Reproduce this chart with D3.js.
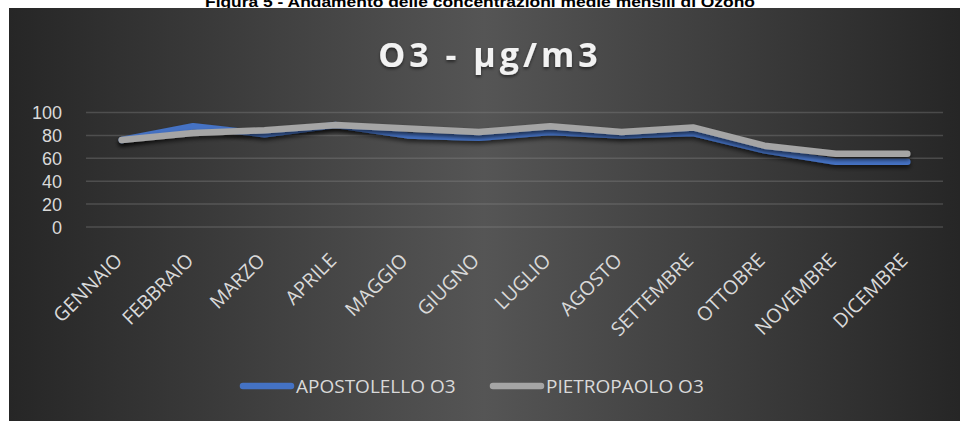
<!DOCTYPE html>
<html>
<head>
<meta charset="utf-8">
<script src="https://cdn.jsdelivr.net/npm/d3@7"></script>
<style>
  html, body { margin: 0; padding: 0; background: #fff; }
  svg { display: block; }
</style>
</head>
<body>
<svg id="chart" width="960" height="421"></svg>
<script>
// Monthly mean ozone concentrations at two stations
const months = ["GENNAIO", "FEBBRAIO", "MARZO", "APRILE", "MAGGIO", "GIUGNO",
                "LUGLIO", "AGOSTO", "SETTEMBRE", "OTTOBRE", "NOVEMBRE", "DICEMBRE"];
const apostolello = [76, 88, 81, 89, 80, 78, 83, 80, 82, 67, 57, 57];
const pietropaolo = [76, 82, 84.5, 89, 86, 83, 88, 83, 87, 71, 64, 64];
const yTicks = [0, 20, 40, 60, 80, 100];
const seriesNames = ["APOSTOLELLO O3", "PIETROPAOLO O3"];
const seriesColors = ["#4472C4", "#A5A5A5"];

const svg = d3.select("#chart");
const W = 960, H = 421;

const defs = svg.append("defs");
const grad = defs.append("linearGradient")
  .attr("id", "bg").attr("x1", 0).attr("x2", 1).attr("y1", 0).attr("y2", 0);
grad.append("stop").attr("offset", "0%").attr("stop-color", "#262626");
grad.append("stop").attr("offset", "50%").attr("stop-color", "#555555");
grad.append("stop").attr("offset", "100%").attr("stop-color", "#262626");

const shadow = defs.append("filter").attr("id", "shadow")
  .attr("x", "-5%").attr("y", "-20%").attr("width", "110%").attr("height", "160%");
shadow.append("feDropShadow").attr("dx", 0).attr("dy", 3).attr("stdDeviation", 2)
  .attr("flood-color", "#000").attr("flood-opacity", 0.6);

const tshadow = defs.append("filter").attr("id", "tshadow")
  .attr("x", "-10%").attr("y", "-30%").attr("width", "120%").attr("height", "170%");
tshadow.append("feDropShadow").attr("dx", 0).attr("dy", 2).attr("stdDeviation", 1.5)
  .attr("flood-color", "#000").attr("flood-opacity", 0.5);

// Figure caption above the chart
svg.append("text")
  .attr("x", 480).attr("y", 7)
  .attr("text-anchor", "middle")
  .attr("font-family", "Liberation Sans, Arial, sans-serif")
  .attr("font-weight", "bold").attr("font-size", 15)
  .attr("textLength", 550).attr("lengthAdjust", "spacingAndGlyphs")
  .attr("fill", "#000")
  .text("Figura 5 - Andamento delle concentrazioni medie mensili di Ozono");

// Chart area
svg.append("rect").attr("x", 9).attr("y", 8).attr("width", W - 9).attr("height", H - 8)
  .attr("fill", "url(#bg)");

// Chart title
svg.append("text")
  .attr("x", 490).attr("y", 67)
  .attr("text-anchor", "middle")
  .attr("font-family", "Open Sans, sans-serif")
  .attr("font-weight", "bold").attr("font-size", 34)
  .attr("letter-spacing", 4)
  .attr("fill", "#f2f2f2")
  .attr("filter", "url(#tshadow)")
  .text("O3 - µg/m3");

const plot = { left: 86, right: 943, top: 112.5, bottom: 227 };

const x = d3.scaleBand().domain(months).range([plot.left, plot.right]);
const y = d3.scaleLinear().domain([0, 100]).range([plot.bottom, plot.top]);

// Gridlines
svg.append("g").selectAll("line").data(yTicks).join("line")
  .attr("x1", plot.left).attr("x2", plot.right)
  .attr("y1", d => y(d)).attr("y2", d => y(d))
  .attr("stroke", "#8a8a8a").attr("stroke-opacity", 0.35).attr("stroke-width", 1.5);

// Y axis labels
const yAxis = d3.axisLeft(y).tickValues(yTicks).tickSize(0).tickPadding(0);
const gy = svg.append("g").attr("transform", "translate(62,0)").call(yAxis);
gy.select(".domain").remove();
gy.selectAll("text")
  .attr("font-family", "Liberation Sans, Arial, sans-serif").attr("font-size", 18)
  .attr("fill", "#d9d9d9").attr("dy", "0.35em");

// X axis labels, rotated
const xAxis = d3.axisBottom(x).tickSize(0).tickPadding(0);
const gx = svg.append("g").attr("transform", `translate(0,${plot.bottom + 25})`).call(xAxis);
gx.select(".domain").remove();
gx.selectAll("text")
  .attr("font-family", "Open Sans, sans-serif").attr("font-size", 19.5)
  .attr("fill", "#d9d9d9")
  .attr("text-anchor", "end")
  .attr("dy", "0.7em")
  .attr("transform", "translate(-8,0) rotate(-45)");

// Lines
const line = d3.line()
  .x((d, i) => x(months[i]) + x.bandwidth() / 2)
  .y(d => y(d));

[apostolello, pietropaolo].forEach((vals, k) => {
  svg.append("path")
    .datum(vals)
    .attr("d", line)
    .attr("fill", "none")
    .attr("stroke", seriesColors[k])
    .attr("stroke-width", 6.5)
    .attr("stroke-linecap", "round")
    .attr("stroke-linejoin", "round")
    .attr("filter", "url(#shadow)");
});

// Legend
const legendItems = [
  { name: seriesNames[0], color: seriesColors[0], x: 240 },
  { name: seriesNames[1], color: seriesColors[1], x: 490 }
];
const lg = svg.append("g");
legendItems.forEach(it => {
  lg.append("line")
    .attr("x1", it.x + 3).attr("x2", it.x + 51)
    .attr("y1", 386).attr("y2", 386)
    .attr("stroke", it.color).attr("stroke-width", 6.5)
    .attr("stroke-linecap", "round");
  lg.append("text")
    .attr("x", it.x + 56).attr("y", 386).attr("dy", "0.35em")
    .attr("font-family", "Open Sans, sans-serif").attr("font-size", 19)
    .attr("fill", "#d9d9d9")
    .text(it.name);
});
</script>
</body>
</html>
